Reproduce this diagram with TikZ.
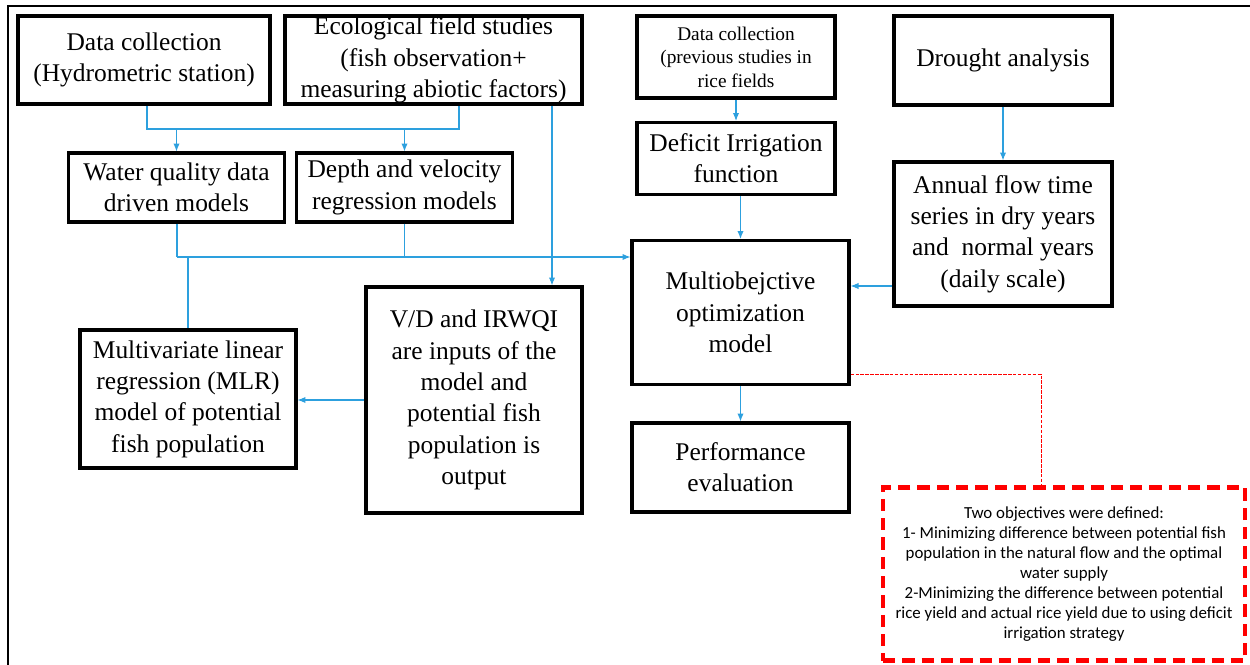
\documentclass[tikz,border=0pt]{standalone}
\usepackage{fontspec}
\setmainfont{Liberation Serif}
\newfontfamily\objfont{Carlito}
\usetikzlibrary{calc,arrows.meta}
\definecolor{flowblue}{RGB}{45,160,222}

\tikzset{
  box/.style 2 args={rectangle,draw=black,line width=1.8pt,align=center,inner sep=0pt,
    minimum width=#1*0.02cm,minimum height=#2*0.02cm,font=\rmfamily\fontsize{14.5}{17.8}\selectfont},
  link/.style={draw=flowblue,line width=0.6pt},
  feed/.style={link,-{Latex[length=4.5pt,width=3.6pt]}},
  note/.style={draw=red,line width=0.45pt,dash pattern=on 2pt off 0.8pt}
}

\begin{document}
\begin{tikzpicture}[x=0.02cm,y=-0.02cm]
      \useasboundingbox (0,0) rectangle (1250,665);
      \draw [line width=1.1pt] (1250,6) -- (8,6) -- (8,665);

      % left part
      \node (dc1) [box={252}{88}] at (144,60) {Data collection\\(Hydrometric station)};
      \node (eco) [box={297}{88}] at (433.5,60) {Ecological field studies\\(fish observation+\\measuring abiotic factors)};
      \node (wq) [box={216}{69}] at (176.5,187.5) {Water quality data\\driven models};
      \node (dv) [box={216}{69}] at (404.5,187.5) {Depth and velocity\\regression models};
      \node (mlr) [box={216}{138}] at (188,399) {Multivariate linear\\regression (MLR)\\model of potential\\fish population};
      \node (vd) [box={216}{226}] at (474,400) {V/D and IRWQI\\are inputs of the\\model and\\potential fish\\population is\\output};

      % right part
      \node (dc2) [box={198}{82},font=\rmfamily\fontsize{11}{13.4}\selectfont] at (736,57) {Data collection\\(previous studies in\\rice fields};
      \node (dr) [box={218}{89}] at (1003,60.5) {Drought analysis};
      \node (di) [box={198}{72}] at (736,158.5) {Deficit Irrigation\\function};
      \node (an) [box={218}{144}] at (1003,234) {Annual flow time\\series in dry years\\and~ normal years\\(daily scale)};
      \node (mo) [box={217}{144}] at (740.5,312.5) {Multiobejctive\\optimization\\model};
      \node (pe) [box={217}{89}] at (740.5,467.5) {Performance\\evaluation};
      \node (obj) [rectangle,draw=red,line width=2.3pt,dash pattern=on 7pt off 4pt,
        minimum width=362*0.02cm,minimum height=173*0.02cm,align=center,
        font=\objfont\fontsize{9.6}{11.4}\selectfont] at (1064,574)
        {Two objectives were defined:\\1- Minimizing difference between potential fish\\population in the natural flow and the optimal\\water supply\\2-Minimizing the difference between potential\\rice yield and actual rice yield due to using deficit\\irrigation strategy};

      % connectors
      \coordinate (j1) at (147,129);
      \coordinate (j2) at (459,129);
      \coordinate (j3) at (177,257);
      \coordinate (e1) at (552,0);
      \coordinate (c1) at (0,286);
      \draw [link] (dc1.south -| j1) -- (j1) -- (j2) -- (eco.south -| j2);
      \draw [feed] (wq.north |- j1) -- (wq.north);
      \draw [feed] (dv.north |- j1) -- (dv.north);
      \draw [feed] (eco.south -| e1) -- (vd.north -| e1);
      \draw [link] (wq.south -| j3) -- (j3);
      \draw [link] (dv.south) -- (dv.south |- j3);
      \draw [feed] (j3) -- (mo.west |- j3);
      \draw [link] (mlr.north |- j3) -- (mlr.north);
      \draw [feed] (vd.west) -- (vd.west -| mlr.east);
      \draw [feed] (dc2.south) -- (di.north);
      \draw [feed] (mo.north |- di.south) -- (mo.north);
      \draw [feed] (dr.south) -- (an.north);
      \draw [feed] (an.west |- c1) -- (mo.east |- c1);
      \draw [feed] (mo.south) -- (pe.north);
      \draw [note] ($(mo.south east)+(0,-12)$) -| ($(obj.north)+(-23,0)$);
    \end{tikzpicture}
\end{document}
